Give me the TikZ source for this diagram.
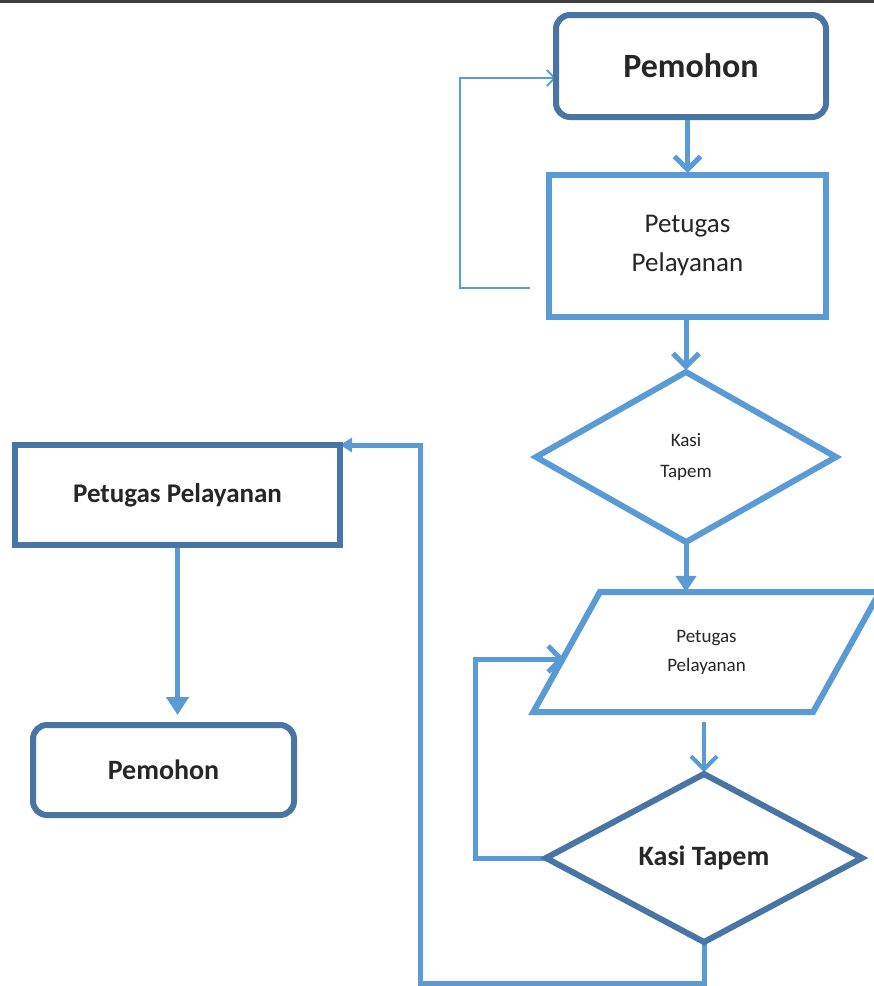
\documentclass[tikz,border=0pt]{standalone}
\usepackage{fontspec}
\setmainfont{Carlito}
\usetikzlibrary{arrows.meta,shapes.geometric,shadows,backgrounds}
\definecolor{lblue}{RGB}{91,155,213}
\definecolor{dblue}{RGB}{72,117,163}
\definecolor{ink}{RGB}{38,38,38}

\begin{document}
\begin{tikzpicture}[x=1pt,y=-1pt,
  every node/.style={text=ink, align=center, inner sep=0pt, outer sep=0pt},
  darkbox/.style={draw=dblue, line width=6pt, fill=white,
    drop shadow={opacity=0.3, shadow xshift=1.5pt, shadow yshift=-1.5pt}},
  lightbox/.style={draw=lblue, line width=6pt, fill=white},
  conn/.style={draw=lblue, line width=5pt},
  barb/.style={conn, -{Straight Barb[length=13pt,width=26pt]}, shorten >=2pt},
  tri/.style={conn, -{Triangle[length=16pt,width=20pt]}},
 ]
\useasboundingbox (0,0) rectangle (874,986);
\clip (0,0) rectangle (874,986);

% dark edge along the top
\fill[black!75] (0,0) rectangle (874,3);

% right-hand column
\node[darkbox, rounded corners=14pt, minimum width=270pt, minimum height=102pt,
      font=\bfseries\fontsize{34}{40}\selectfont] (p1) at (691,66) {Pemohon};
\node[lightbox, minimum width=277pt, minimum height=142pt,
      font=\fontsize{27}{39}\selectfont] (b1) at (687.5,246) {Petugas\\Pelayanan};
\node[diamond, lightbox, minimum width=300pt, minimum height=170pt,
      font=\fontsize{19}{31}\selectfont] (d1) at (686,457) {Kasi\\Tapem};
\node[trapezium, trapezium left angle=61, trapezium right angle=119,
      trapezium stretches=true, lightbox, minimum width=347pt, minimum height=120pt,
      font=\fontsize{19}{29}\selectfont] (pa) at (706.5,652) {Petugas\\Pelayanan};
\node[diamond, darkbox, minimum width=316pt, minimum height=168pt,
      font=\bfseries\fontsize{28}{34}\selectfont] (d2) at (704,858) {Kasi Tapem};

% left-hand column
\node[darkbox, minimum width=325pt, minimum height=100pt,
      font=\bfseries\fontsize{27}{32}\selectfont] (b2) at (177.5,495) {Petugas Pelayanan};
\node[darkbox, rounded corners=14pt, minimum width=261pt, minimum height=90pt,
      font=\bfseries\fontsize{28}{34}\selectfont] (p2) at (163.5,770) {Pemohon};

\coordinate (fb) at (530,288);
\coordinate (low) at (420,983);

\begin{scope}[on background layer]
  \draw[barb] (b1.north |- p1.south) -- (b1.north);
  \draw[barb] (d1.north |- b1.south) -- (d1.north);
  \draw[tri] (d1.south) -- (d1.south |- pa.north);
  \draw[barb, line width=4pt, shorten <=10pt] (d2.north |- pa.south) -- (d2.north);
  \draw[barb] (d2.west) -- (475,858) |- ([yshift=-7pt]pa.west);
  \draw[conn, -{Triangle[length=12pt,width=14pt]}] (d2.south) |- (low) |- (b2.north east);
  \draw[conn, -{Triangle[length=18pt,width=22pt]}, shorten >=10pt] (b2.south) -- (b2.south |- p2.north);
  \draw[draw=lblue, line width=1.8pt, -{Straight Barb[length=8pt,width=16pt]}]
    (fb) -| (460,78) -- (p1.west |- 0,78);
\end{scope}
\end{tikzpicture}
\end{document}
